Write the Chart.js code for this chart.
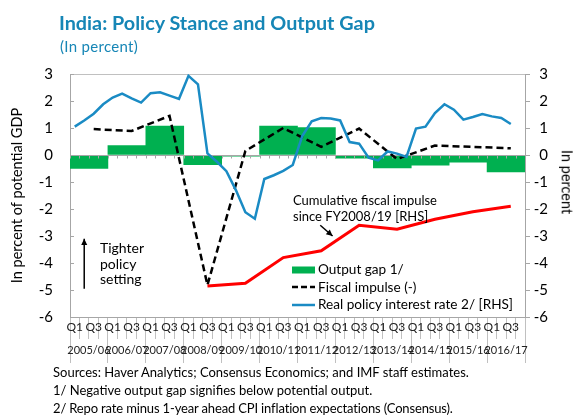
<!DOCTYPE html>
<html>
<head>
<meta charset="utf-8">
<script src="https://cdn.jsdelivr.net/npm/chart.js@4.4.1/dist/chart.umd.min.js"></script>
<style>
  body { margin: 0; width: 573px; height: 415px; overflow: hidden; background: #fff; position: relative; font-family: Lato, sans-serif; color: #000; }
  #chart { position: absolute; left: 0; top: 0; }
  .txt { position: absolute; white-space: nowrap; line-height: 1.2; }
  .lg { position: absolute; left: 292px; top: 261px; font-size: 13.6px; line-height: 17.5px; }
  .lg div { display: flex; align-items: center; height: 17.5px; }
  .lg svg { margin-right: 3px; }
</style>
</head>
<body>
<canvas id="chart" width="573" height="415"></canvas>

<div class="txt" style="left:59px;top:11px;font-size:19.8px;font-weight:bold;color:#1686b6">India: Policy Stance and Output Gap</div>
<div class="txt" style="left:60px;top:37px;font-size:15px;letter-spacing:0.3px;color:#1686b6">(In percent)</div>

<div class="txt" style="left:100px;top:240px;font-size:14px;line-height:15.5px">Tighter<br>policy<br>setting</div>
<div class="txt" style="left:293px;top:193px;font-size:13px;line-height:15.5px">Cumulative fiscal impulse<br>since FY2008/19 [RHS]</div>

<div class="lg">
  <div><svg width="23" height="10"><rect x="0" y="1.5" width="23" height="7" fill="#00b050"/></svg>Output gap 1/</div>
  <div><svg width="23" height="10"><line x1="0" y1="5" x2="23" y2="5" stroke="#000" stroke-width="2.5" stroke-dasharray="6 3"/></svg>Fiscal impulse (-)</div>
  <div><svg width="23" height="10"><line x1="0" y1="5" x2="23" y2="5" stroke="#1a8bc4" stroke-width="2.5"/></svg>Real policy interest rate 2/ [RHS]</div>
</div>

<div class="txt" style="left:567px;top:182px;font-size:14.5px;transform:translate(-50%,-50%) rotate(90deg)">In percent</div>

<div class="txt" style="left:53px;top:363px;font-size:13px;line-height:18px">Sources: Haver Analytics; Consensus Economics; and IMF staff estimates.<br>1/ Negative output gap signifies below potential output.<br><span style="letter-spacing:-0.15px">2/ Repo rate minus 1-year ahead CPI inflation expectations (Consensus).</span></div>

<script>
// fiscal years, quarters Q1..Q4 inside each
const years = ['2005/06', '2006/07', '2007/08', '2008/09', '2009/10', '2010/11',
  '2011/12', '2012/13', '2013/14', '2014/15', '2015/16', '2016/17'];
const quarterTicks = ['Q1', '', 'Q3', ''];

// annual values (one bar per fiscal year)
const outputGap = [-0.5, 0.35, 1.07, -0.36, -0.04, 1.07, 1.02, -0.12, -0.48, -0.38, -0.27, -0.63];
// annual values, plotted at Q3 of each fiscal year
const fiscalImpulse = [0.96, 0.89, 1.45, -4.82, 0.15, 1.0, 0.3, 0.98, -0.15, 0.35, 0.3, 0.25];
const cumFiscalImpulse = [null, null, null, -4.85, -4.75, -3.8, -3.55, -2.6, -2.75, -2.38, -2.1, -1.9];
// quarterly, 2005/06 Q1 .. 2016/17 Q3
const realRate = [1.05, 1.28, 1.53, 1.88, 2.13, 2.27, 2.1, 1.94, 2.29, 2.32, 2.2, 2.08,
  2.93, 2.62, 0.06, -0.25, -0.6, -1.3, -2.12, -2.36, -0.89, -0.75, -0.59, -0.37,
  0.7, 1.25, 1.37, 1.35, 1.28, 0.48, 0.42, -0.1, -0.2, 0.13, 0.05, -0.07,
  0.98, 1.05, 1.55, 1.88, 1.68, 1.31, 1.41, 1.52, 1.43, 1.37, 1.15];

const quarters = years.flatMap(() => quarterTicks);
const atQ3 = arr => arr.map((v, k) => ({ x: 4 * k + 2, y: v })).filter(p => p.y !== null);

const axisGrey = '#a6a6a6';
const tickGrey = '#c0c0c0';

// zero axis with quarter tick marks, and the two arrows
const decor = {
  id: 'decor',
  afterDatasetDraw(chart, args) {
    if (args.index !== 0) return;
    const { ctx, chartArea, scales } = chart;
    const y0 = Math.round(scales.y.getPixelForValue(0)) + 0.5;
    ctx.save();
    ctx.strokeStyle = axisGrey;
    ctx.lineWidth = 1;
    ctx.beginPath();
    ctx.moveTo(chartArea.left, y0);
    ctx.lineTo(chartArea.right, y0);
    for (let i = 0; i <= quarters.length; i++) {
      const x = Math.round(scales.x.getPixelForValue(i - 0.5)) + 0.5;
      ctx.moveTo(x, y0);
      ctx.lineTo(x, y0 + 3);
    }
    ctx.stroke();
    ctx.restore();
  },
  afterDraw(chart) {
    const { ctx, scales } = chart;
    const arrow = (x1, y1, x2, y2) => {
      const a = Math.atan2(y2 - y1, x2 - x1);
      ctx.beginPath();
      ctx.moveTo(x1, y1);
      ctx.lineTo(x2, y2);
      ctx.stroke();
      ctx.beginPath();
      ctx.moveTo(x2, y2);
      ctx.lineTo(x2 - 7 * Math.cos(a - 0.45), y2 - 7 * Math.sin(a - 0.45));
      ctx.lineTo(x2 - 7 * Math.cos(a + 0.45), y2 - 7 * Math.sin(a + 0.45));
      ctx.closePath();
      ctx.fill();
    };
    ctx.save();
    ctx.strokeStyle = '#000';
    ctx.fillStyle = '#000';
    ctx.lineWidth = 1.5;
    const xs = scales.x, ys = scales.y;
    arrow(xs.getPixelForValue(1), ys.getPixelForValue(-4.95), xs.getPixelForValue(1), ys.getPixelForValue(-3.1));
    arrow(xs.getPixelForValue(25.9), ys.getPixelForValue(-2.6), xs.getPixelForValue(27.2), ys.getPixelForValue(-3.0));
    ctx.restore();
  }
};

new Chart(document.getElementById('chart'), {
  data: {
    datasets: [{
      type: 'bar',
      label: 'Output gap 1/',
      data: outputGap,
      xAxisID: 'x2',
      yAxisID: 'y',
      backgroundColor: '#00b050',
      grouped: false,
      barPercentage: 1,
      categoryPercentage: 1,
      order: 4
    }, {
      type: 'line',
      label: 'Fiscal impulse (-)',
      data: atQ3(fiscalImpulse),
      parsing: false,
      xAxisID: 'x',
      yAxisID: 'y',
      borderColor: '#000',
      borderWidth: 2.5,
      borderDash: [7, 4],
      pointRadius: 0,
      order: 3
    }, {
      type: 'line',
      label: 'Cumulative fiscal impulse',
      data: atQ3(cumFiscalImpulse),
      parsing: false,
      xAxisID: 'x',
      yAxisID: 'y2',
      borderColor: '#ff0000',
      borderWidth: 3,
      pointRadius: 0,
      order: 2
    }, {
      type: 'line',
      label: 'Real policy interest rate 2/ [RHS]',
      data: realRate,
      xAxisID: 'x',
      yAxisID: 'y2',
      borderColor: '#1a8bc4',
      borderWidth: 2.5,
      pointRadius: 0,
      order: 1
    }]
  },
  options: {
    responsive: false,
    animation: false,
    devicePixelRatio: 1,
    layout: { padding: { top: 74, bottom: 52, left: 0, right: 25 } },
    plugins: {
      legend: { display: false },
      tooltip: { enabled: false }
    },
    scales: {
      x: {
        type: 'category',
        labels: quarters,
        position: 'bottom',
        weight: 0,
        offset: true,
        grid: { offset: true, drawOnChartArea: false, tickLength: 22, color: tickGrey },
        border: { color: axisGrey },
        ticks: { autoSkip: false, maxRotation: 0, padding: -19, color: '#222', font: { family: 'Lato', size: 12 } },
        afterFit: s => { s.height = 22; }
      },
      x2: {
        type: 'category',
        labels: years,
        position: 'bottom',
        weight: 1,
        offset: true,
        grid: { offset: true, drawOnChartArea: false, tickLength: 24, color: tickGrey },
        border: { display: false },
        ticks: { autoSkip: false, maxRotation: 0, padding: -19, color: '#222', font: { family: 'Lato', size: 11 } },
        afterFit: s => { s.height = 24; }
      },
      y: {
        position: 'left',
        min: -6,
        max: 3,
        ticks: { stepSize: 1, padding: 21, color: '#000', font: { family: 'Lato', size: 15 } },
        grid: {
          tickLength: -4,
          tickColor: axisGrey,
          color: c => (c.tick && c.tick.value === 3 ? tickGrey : 'rgba(0,0,0,0)')
        },
        border: { color: axisGrey },
        title: { display: true, text: 'In percent of potential GDP', color: '#000', font: { family: 'Lato', size: 14.5 }, padding: { top: 9, bottom: 0 } },
        afterFit: s => { s.width = 70; }
      },
      y2: {
        position: 'right',
        min: -6,
        max: 3,
        ticks: { stepSize: 1, padding: 4, crossAlign: 'far', color: '#000', font: { family: 'Lato', size: 15 } },
        grid: { drawOnChartArea: false, tickLength: 5, tickColor: axisGrey },
        border: { color: axisGrey },
        afterFit: s => { s.width = 23; }
      }
    }
  },
  plugins: [decor]
});
</script>
</body>
</html>
